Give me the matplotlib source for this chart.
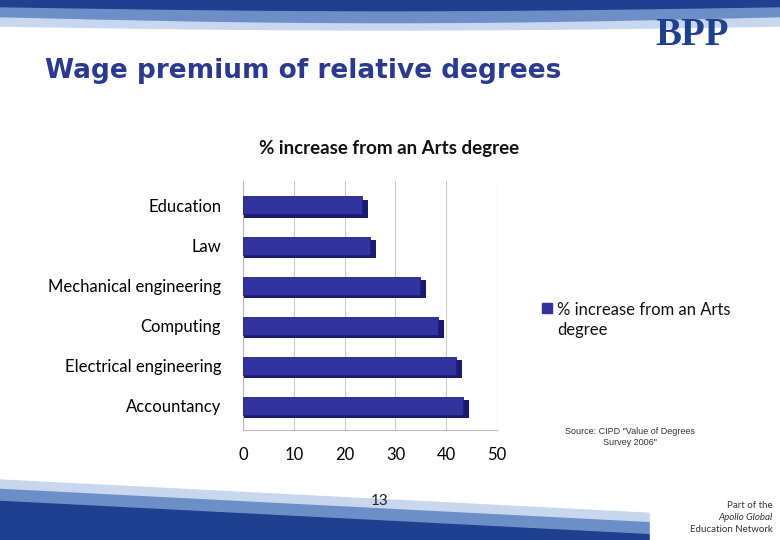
import matplotlib.pyplot as plt
import matplotlib.patches as mp
import numpy as np

categories = ["Education", "Law", "Mechanical engineering", "Computing", "Electrical engineering", "Accountancy"]
values = [23.4, 25.0, 34.8, 38.4, 42.0, 43.3]
xticks = [0, 10, 20, 30, 40, 50]

plt.rcParams["font.family"] = ["Lato", "DejaVu Sans"]
fig = plt.figure(figsize=(7.8, 5.4), dpi=100)
fig.patch.set_facecolor("white")

bg = fig.add_axes([0, 0, 1, 1], zorder=0)
bg.set_xlim(0, 780); bg.set_ylim(540, 0); bg.axis("off")
t = np.linspace(0, 780, 200)
bg.fill_between(t, 0, 8 + 4*np.sin(t/780*np.pi), color="#1f3f8f")
bg.fill_between(t, 8 + 4*np.sin(t/780*np.pi), 18 + 6*np.sin(t/780*np.pi), color="#6d8fc8")
bg.fill_between(t, 18 + 6*np.sin(t/780*np.pi), 26 + 4*np.sin(t/780*np.pi), color="#c9d7ee")
yb = 480 + (t/780)*40
bg.fill_between(t, yb + 20, 540, color="#1f3f8f")
bg.fill_between(t, yb + 8, yb + 20, color="#6d8fc8")
bg.fill_between(t, yb, yb + 8, color="#c9d7ee")
bg.add_patch(mp.Rectangle((650, 470), 130, 70, color="white", zorder=3))
bg.text(45, 78, "Wage premium of relative degrees", fontsize=19, fontweight="bold", color="#2b3a8f", family="DejaVu Sans")
bg.text(655, 45, "BPP", fontsize=28, fontweight="bold", color="#1f3f8f", family="Liberation Serif")
bg.text(380, 505, "13", fontsize=11, ha="center", color="#222")
bg.text(773, 508, "Part of the", fontsize=7, ha="right", color="#333", zorder=4)
bg.text(773, 520, "Apollo Global", fontsize=7, ha="right", color="#333", style="italic", zorder=4)
bg.text(773, 532, "Education Network", fontsize=7, ha="right", color="#333", zorder=4)
bg.text(630, 445, "Source: CIPD \"Value of Degrees\nSurvey 2006\"", fontsize=6.5, ha="center", color="#333", linespacing=1.3, family="Liberation Sans")
bg.text(389, 154, "% increase from an Arts degree", fontsize=13.5, fontweight="bold", ha="center", color="#111")

ax = fig.add_axes([0.312, 0.204, 0.325, 0.46], zorder=2)
y = np.arange(len(categories))[::-1]
ax.barh(y - 0.08, [v + 1.2 for v in values], height=0.45, left=0, color="#1a1a70", zorder=2)
ax.barh(y, values, height=0.45, color="#3333a0", edgecolor="#20207a", lw=0.6, zorder=3)
ax.set_yticks(y); ax.set_yticklabels(categories, fontsize=12)
ax.set_xticks(xticks); ax.set_xlim(0, 50); ax.set_ylim(-0.6, 5.6)
ax.tick_params(axis="x", labelsize=12, length=0, pad=12)
ax.tick_params(axis="y", length=0, pad=16)
ax.grid(axis="x", color="#c8c8c8", lw=0.8, zorder=0)
for s in ["top", "right"]:
    ax.spines[s].set_visible(False)
ax.spines["left"].set_color("#bbbbbb"); ax.spines["bottom"].set_color("#bbbbbb")

bg.add_patch(mp.Rectangle((542, 303), 10, 10, color="#3333a0", zorder=3))
bg.text(557, 320, "% increase from an Arts\ndegree", fontsize=12, va="center", color="#111", linespacing=1.3)

fig.savefig("out.png", dpi=100)
